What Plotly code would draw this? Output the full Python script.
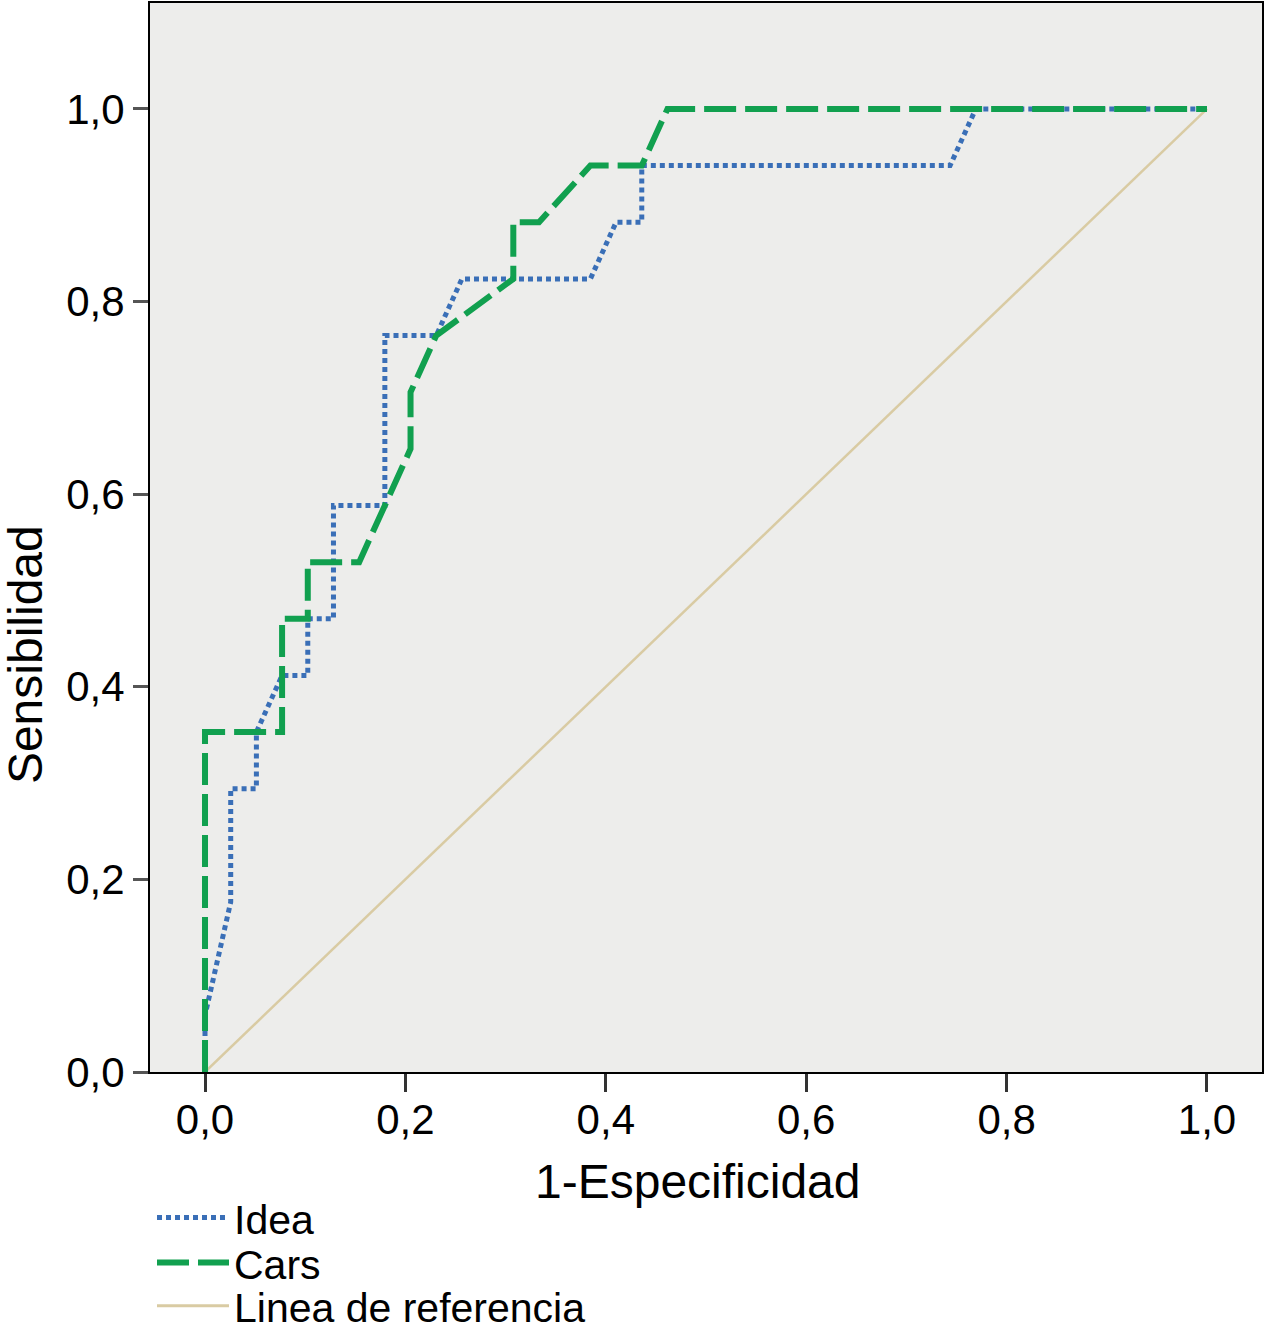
import plotly.graph_objects as go

# ROC data (1-specificity, sensitivity); 39 negatives, 17 positives
idea_x = [0, 0, 1/39, 1/39, 2/39, 2/39, 3/39, 4/39, 4/39, 5/39, 5/39, 7/39, 7/39,
          9/39, 10/39, 15/39, 16/39, 17/39, 17/39, 29/39, 30/39, 1]
idea_y = [0, 1/17, 3/17, 5/17, 5/17, 6/17, 7/17, 7/17, 8/17, 8/17, 10/17, 10/17, 13/17,
          13/17, 14/17, 14/17, 15/17, 15/17, 16/17, 16/17, 1, 1]

cars_x = [0, 0, 3/39, 3/39, 4/39, 4/39, 6/39, 7/39, 8/39, 8/39, 9/39, 12/39, 12/39,
          13/39, 15/39, 17/39, 18/39, 1]
cars_y = [0, 6/17, 6/17, 8/17, 8/17, 9/17, 9/17, 10/17, 11/17, 12/17, 13/17, 14/17, 15/17,
          15/17, 16/17, 16/17, 1, 1]

ref_x = [0, 1]
ref_y = [0, 1]

tick_vals = [0, 0.2, 0.4, 0.6, 0.8, 1.0]
tick_text = ["0,0", "0,2", "0,4", "0,6", "0,8", "1,0"]

x_title = "1-Especificidad"
y_title = "Sensibilidad"

FONT = "Liberation Sans, Arial, Helvetica, sans-serif"
REF_COLOR = "#d9cba3"

fig = go.Figure()
fig.add_trace(go.Scatter(x=ref_x, y=ref_y, mode="lines", name="Linea de referencia",
                         line=dict(color=REF_COLOR, width=2.5), showlegend=False))
fig.add_trace(go.Scatter(x=idea_x, y=idea_y, mode="lines", name="Idea", legend="legend",
                         line=dict(color="#3a6fb7", width=5, dash="5px,4px")))
fig.add_trace(go.Scatter(x=cars_x, y=cars_y, mode="lines", name="Cars", legend="legend2",
                         line=dict(color="#11a04f", width=6, dash="32px,9px")))
# legend entry for the reference line, shown last
fig.add_trace(go.Scatter(x=[None], y=[None], mode="lines", name="Linea de referencia",
                         legend="legend3", line=dict(color=REF_COLOR, width=3)))

leg_common = dict(x=0.0018, xanchor="left", yanchor="middle",
                  font=dict(family=FONT, size=41, color="black"),
                  bgcolor="rgba(0,0,0,0)", itemwidth=72, borderwidth=0)

fig.update_layout(
    width=1269, height=1330,
    margin=dict(l=150, r=7, t=3, b=258, autoexpand=False),
    paper_bgcolor="white",
    plot_bgcolor="#ededeb",
    font=dict(family=FONT, size=42, color="black"),
    legend=dict(y=-0.1365, **leg_common),
    legend2=dict(y=-0.1786, **leg_common),
    legend3=dict(y=-0.2189, **leg_common),
    showlegend=True,
    annotations=[
        dict(text=x_title, xref="paper", yref="paper", x=0.4928, y=-0.102,
             xanchor="center", yanchor="middle", showarrow=False,
             font=dict(family=FONT, size=48, color="black")),
        dict(text=y_title, xref="paper", yref="paper", x=-0.1124, y=0.390,
             xanchor="center", yanchor="middle", showarrow=False, textangle=-90,
             font=dict(family=FONT, size=48, color="black")),
    ],
)
fig.update_xaxes(range=[-0.0549, 1.0549], tickvals=tick_vals, ticktext=tick_text,
                 showgrid=False, zeroline=False, ticks="outside", ticklen=18, tickwidth=3,
                 tickcolor="#333333", showline=True, linecolor="black", linewidth=2,
                 mirror=True, automargin=False, tickfont=dict(size=42),
                 ticklabelstandoff=-8)
fig.update_yaxes(range=[0, 1.11], tickvals=tick_vals, ticktext=tick_text,
                 showgrid=False, zeroline=False, ticks="outside", ticklen=15, tickwidth=3,
                 tickcolor="#555555", showline=True, linecolor="black", linewidth=2,
                 mirror=True, automargin=False, tickfont=dict(size=42))

fig.write_html("out.html", config={"displayModeBar": False},
               post_script="document.body.style.margin='0';")
